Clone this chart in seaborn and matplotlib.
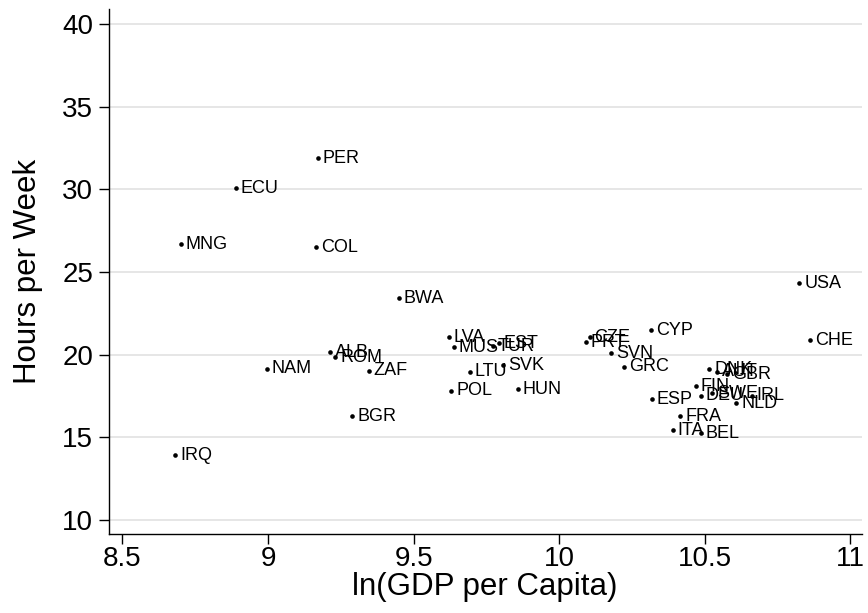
import matplotlib
matplotlib.use("Agg")
import matplotlib.pyplot as plt
import seaborn as sns
import pandas as pd

countries = ["PER", "ECU", "MNG", "COL", "BWA", "USA", "CHE", "LVA", "MUS", "TUR", "EST",
             "LTU", "SVK", "POL", "HUN", "CZE", "PRT", "SVN", "GRC", "CYP", "ESP",
             "DNK", "AUT", "GBR", "FIN", "DEU", "SWE", "IRL", "NLD", "FRA", "ITA", "BEL",
             "ALB", "ROM", "ZAF", "NAM", "BGR", "IRQ"]
ln_gdp = [9.17, 8.89, 8.70, 9.166, 9.449, 10.825, 10.863, 9.62, 9.638, 9.773, 9.792,
          9.693, 9.807, 9.63, 9.859, 10.105, 10.092, 10.178, 10.224, 10.317, 10.319,
          10.516, 10.542, 10.576, 10.47, 10.487, 10.525, 10.662, 10.609, 10.416, 10.39, 10.487,
          9.212, 9.231, 9.346, 8.995, 9.29, 8.682]
hours = [31.9, 30.1, 26.7, 26.5, 23.45, 24.35, 20.9, 21.08, 20.44, 20.54, 20.68,
         18.98, 19.4, 17.83, 17.93, 21.08, 20.74, 20.1, 19.28, 21.5, 17.33,
         19.14, 18.98, 18.84, 18.1, 17.53, 17.69, 17.53, 17.07, 16.27, 15.46, 15.26,
         20.18, 19.88, 19.04, 19.16, 16.27, 13.92]

df = pd.DataFrame({"country": countries, "lngdp": ln_gdp, "hours": hours})

sns.set_style("white")
plt.rcParams["font.family"] = ["Liberation Sans", "DejaVu Sans"]
plt.rcParams["text.color"] = "black"
plt.rcParams["axes.labelcolor"] = "black"
plt.rcParams["xtick.color"] = "black"
plt.rcParams["ytick.color"] = "black"

fig = plt.figure(figsize=(8.68, 6.13), dpi=100)
ax = fig.add_axes([0.125, 0.1289, 0.868, 0.8559])

sns.scatterplot(data=df, x="lngdp", y="hours", ax=ax, color="black", s=11,
                linewidth=0, zorder=3)

for c, x, y in zip(countries, ln_gdp, hours):
    ax.annotate(c, (x, y), xytext=(3.5, -0.3), textcoords="offset points",
                ha="left", va="center", fontsize=13, color="black", zorder=4)

ax.set_xlim(8.452, 11.04)
ax.set_ylim(9.154, 40.89)
ax.set_xticks([8.5, 9, 9.5, 10, 10.5, 11])
ax.set_xticklabels(["8.5", "9", "9.5", "10", "10.5", "11"])
ax.set_yticks([10, 15, 20, 25, 30, 35, 40])
ax.yaxis.grid(True, color="#e6e6e6", linewidth=1.4, zorder=0)
ax.xaxis.grid(False)
ax.set_axisbelow(True)

for s in ["top", "right"]:
    ax.spines[s].set_visible(False)
for s in ["left", "bottom"]:
    ax.spines[s].set_color("black")
    ax.spines[s].set_linewidth(1.0)

ax.tick_params(axis="both", which="major", direction="out", length=7, width=1,
               color="black", labelcolor="black", labelsize=20, bottom=True, left=True)
ax.tick_params(axis="y", pad=4)
ax.tick_params(axis="x", pad=2)
ax.set_xlabel("ln(GDP per Capita)", fontsize=22.5, labelpad=0, color="black")
ax.set_ylabel("Hours per Week", fontsize=22.5, labelpad=14, color="black")

fig.savefig("out.png", dpi=100)
